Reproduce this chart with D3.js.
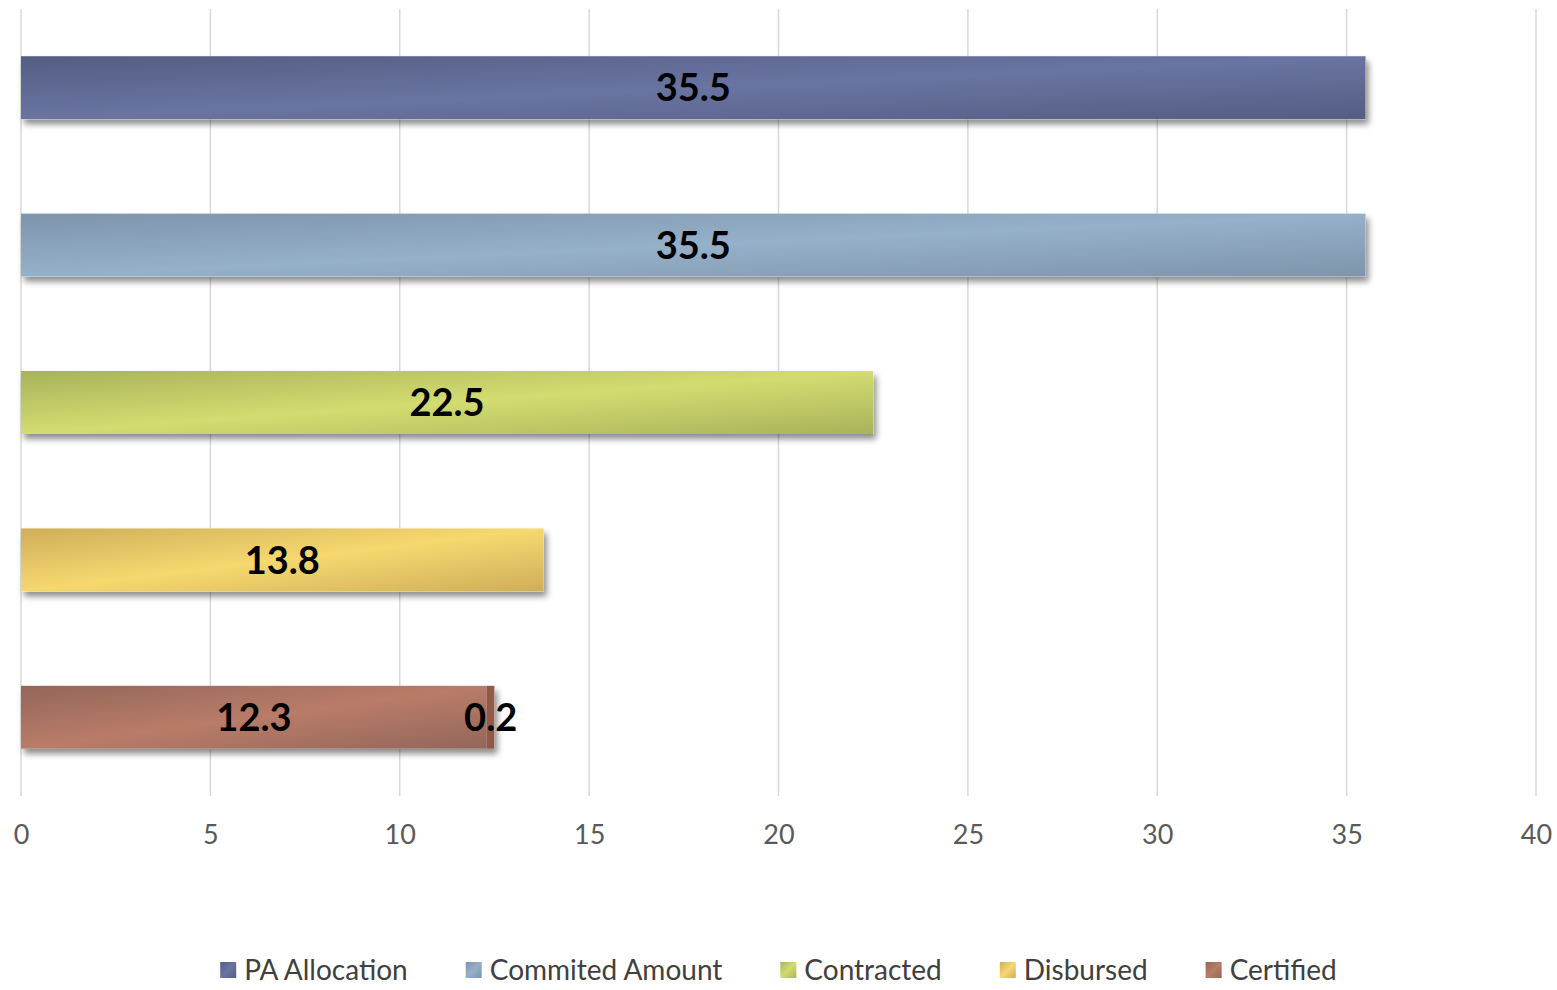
<!DOCTYPE html>
<html>
<head>
<meta charset="utf-8">
<script src="https://cdn.jsdelivr.net/npm/d3@7"></script>
<style>
  html, body { margin: 0; padding: 0; background: #fff; }
  svg { display: block; font-family: Lato, "Open Sans", sans-serif; }
</style>
</head>
<body>
<svg id="chart" width="1557" height="990"></svg>
<script>
// rows, top to bottom
const rows = ['r1', 'r2', 'r3', 'r4', 'r5'];

// series names as in the legend
const seriesNames = ['PA Allocation', 'Commited Amount', 'Contracted', 'Disbursed', 'Certified'];

// value of each series per row (stacked)
const paAllocation = [35.5, 0, 0, 0, 0];
const commitedAmount = [0, 35.5, 0, 0, 0];
const contracted = [0, 0, 22.5, 0, 0];
const disbursed = [0, 0, 0, 13.8, 0];
const certified = [0, 0, 0, 0, 12.3];
const certifiedExtra = [0, 0, 0, 0, 0.2]; // small darker segment, no legend entry

const xTicks = [0, 5, 10, 15, 20, 25, 30, 35, 40];

// colour ramps: [edge, centre] per series
const palette = [
  ['#545d82', '#6a74a2'],
  ['#7e95ab', '#95b0c9'],
  ['#a8b35a', '#d3dc70'],
  ['#cfae5a', '#f6d86f'],
  ['#93665a', '#b97c68'],
  ['#8a5746', '#935c4a'],
];

const svg = d3.select('#chart');
const margin = { top: 9, right: 21, bottom: 194, left: 21 };
const W = 1557, H = 990;
const innerW = W - margin.left - margin.right;
const innerH = H - margin.top - margin.bottom;

const allSeries = [paAllocation, commitedAmount, contracted, disbursed, certified, certifiedExtra];

const x = d3.scaleLinear().domain([0, 40]).range([0, innerW]);
const y = d3.scaleBand().domain(rows).range([0, innerH]).paddingInner(0.6).paddingOuter(0.3);

const defs = svg.append('defs');
palette.forEach((c, i) => {
  const g = defs.append('linearGradient')
    .attr('id', `grad${i}`)
    .attr('x1', 0).attr('y1', 0).attr('x2', 1).attr('y2', 1);
  g.append('stop').attr('offset', '0%').attr('stop-color', c[0]);
  g.append('stop').attr('offset', '50%').attr('stop-color', c[1]);
  g.append('stop').attr('offset', '100%').attr('stop-color', c[0]);
});
const shadow = defs.append('filter').attr('id', 'shadow')
  .attr('x', '-5%').attr('y', '-20%').attr('width', '110%').attr('height', '160%');
shadow.append('feDropShadow')
  .attr('dx', 3).attr('dy', 5).attr('stdDeviation', 3)
  .attr('flood-color', '#000').attr('flood-opacity', 0.45);

const g = svg.append('g').attr('transform', `translate(${margin.left},${margin.top})`);

// vertical gridlines
g.append('g')
  .selectAll('line')
  .data(xTicks)
  .enter()
  .append('line')
  .attr('x1', (d) => x(d)).attr('x2', (d) => x(d))
  .attr('y1', 0).attr('y2', innerH)
  .attr('stroke', '#d9d9d9')
  .attr('stroke-width', 1.5);

// build stacked segments
const segments = [];
rows.forEach((r, ri) => {
  let acc = 0;
  allSeries.forEach((s, si) => {
    const v = s[ri];
    if (v > 0) {
      segments.push({ row: r, si, x0: acc, x1: acc + v, value: v });
      acc += v;
    }
  });
});

// shadows drawn first per row so segments sit on top
const rowTotals = rows.map((r, ri) => ({ row: r, total: d3.sum(allSeries, (s) => s[ri]) }));
g.append('g')
  .selectAll('rect')
  .data(rowTotals)
  .enter()
  .append('rect')
  .attr('x', 0)
  .attr('y', (d) => y(d.row))
  .attr('width', (d) => x(d.total))
  .attr('height', y.bandwidth())
  .attr('fill', '#fff')
  .attr('filter', 'url(#shadow)');

g.append('g')
  .selectAll('rect')
  .data(segments)
  .enter()
  .append('rect')
  .attr('x', (d) => x(d.x0))
  .attr('y', (d) => y(d.row))
  .attr('width', (d) => x(d.x1) - x(d.x0))
  .attr('height', y.bandwidth())
  .attr('fill', (d) => `url(#grad${d.si})`);

// value labels centred in each segment
g.append('g')
  .selectAll('text')
  .data(segments)
  .enter()
  .append('text')
  .attr('x', (d) => x((d.x0 + d.x1) / 2))
  .attr('y', (d) => y(d.row) + y.bandwidth() / 2)
  .attr('dy', '0.36em')
  .attr('text-anchor', 'middle')
  .style('font-size', '38px')
  .style('font-weight', 'bold')
  .attr('fill', '#000')
  .text((d) => d.value.toFixed(1));

// x axis tick labels
const xAxis = d3.axisBottom(x).tickValues(xTicks).tickSize(0).tickPadding(29).tickFormat(d3.format('d'));
const ax = g.append('g').attr('transform', `translate(0,${innerH})`).call(xAxis);
ax.select('.domain').remove();
ax.selectAll('text')
  .style('font-size', '27px')
  .style('font-family', 'Lato, sans-serif')
  .attr('fill', '#595959');

// legend
const legend = svg.append('g').attr('transform', 'translate(0,970)');
const items = legend.selectAll('g')
  .data(seriesNames)
  .enter()
  .append('g');
items.append('rect')
  .attr('x', 0).attr('y', -8)
  .attr('width', 16).attr('height', 16)
  .attr('fill', (d, i) => `url(#grad${i})`);
items.append('text')
  .attr('x', 24)
  .attr('dy', '0.36em')
  .style('font-size', '28px')
  .attr('fill', '#404040')
  .text((d) => d);

const gap = 58;
let pos = 0;
const offsets = [];
items.each(function() {
  const w = this.querySelector('text').getComputedTextLength();
  offsets.push(pos);
  pos += 24 + w + gap;
});
const total = pos - gap;
const startX = (W - total) / 2;
items.attr('transform', (d, i) => `translate(${startX + offsets[i]},0)`);
</script>
</body>
</html>
